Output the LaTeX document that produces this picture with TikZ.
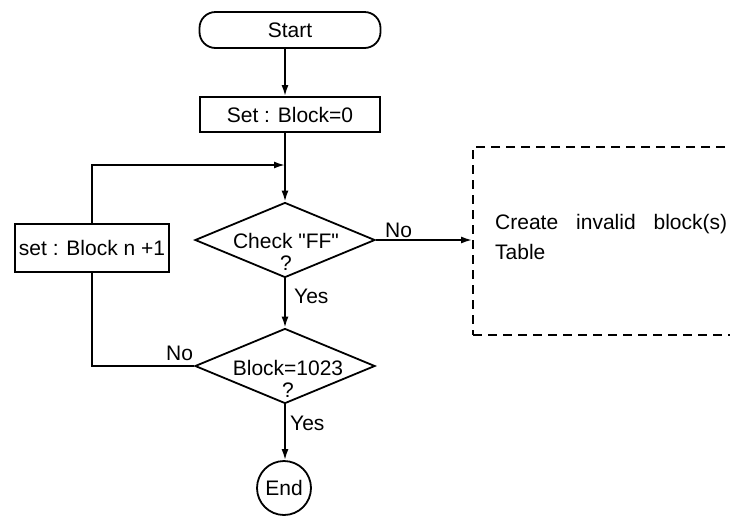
\documentclass[tikz,border=0pt]{standalone}
\usepackage{fontspec}
\setmainfont{Liberation Sans}[Ligatures=TeXOff]
\usetikzlibrary{arrows.meta,shapes.geometric}

\begin{document}
\begin{tikzpicture}[x=1pt,y=-1pt,
    every node/.style={font=\fontsize{21}{22}\selectfont},
    flow/.style={line width=1.8pt},
    arr/.style={flow,-{Latex[length=11pt,width=7pt]}},
    caja/.style={draw,flow,rectangle,inner sep=0pt},
    rombo/.style={draw,flow,diamond,inner sep=0pt,minimum width=180pt,minimum height=75pt},
    etiq/.style={inner sep=0pt,anchor=base west}]

        \useasboundingbox (0,0) rectangle (730,515);

        \node[caja,rounded corners=16pt,minimum width=181pt,minimum height=36pt] (start) at (290,30) {Start};
        \node[caja,minimum width=180pt,minimum height=35pt] (setb) at (290,114.5) {Set : Block=0};

        \node[rombo] (chk) at (285,240) {};
        \node[inner sep=0pt,align=center] (chktxt) at (286,252) {Check "FF"\\?};

        \node[rombo] (blk) at (285,366) {};
        \node[inner sep=0pt,align=center] (blktxt) at (288,379) {Block=1023\\?};

        \node[caja,minimum width=154pt,minimum height=48pt] (inc) at (92,248) {set : Block n +1};

        \node[draw,flow,circle,inner sep=0pt,minimum size=54pt] (fin) at (284,488) {End};

        \node[draw,flow,dashed,dash pattern=on 9pt off 6pt,rectangle,minimum width=272pt,minimum height=188pt] (tbl) at (609,241) {};
        \node[inner sep=0pt,align=left,anchor=north west,font=\fontsize{21}{30}\selectfont] (tbltxt) at (495,214)
            {\makebox[232pt][s]{Create invalid block(s)}\\Table};

        \coordinate (jn) at (285,165);

        \draw[arr] (start.south -| chk.north) -- (setb.north -| chk.north);
        \draw[arr] (setb.south -| chk.north) -- (chk.north);
        \draw[arr] (chk.south) -- (blk.north);
        \draw[arr] (blk.south) -- (blk.south |- fin.north);
        \draw[arr] (chk.east) -- (chk.east -| tbl.west);
        \draw[flow] (blk.west) -| (inc.south);
        \draw[arr] (inc.north) |- (jn);

        \node[etiq] (yes1) at (294,303) {Yes};
        \node[etiq] (yes2) at (290,430) {Yes};
        \node[etiq] (no1) at (385,237) {No};
        \node[etiq] (no2) at (166,360) {No};
    \end{tikzpicture}
\end{document}
